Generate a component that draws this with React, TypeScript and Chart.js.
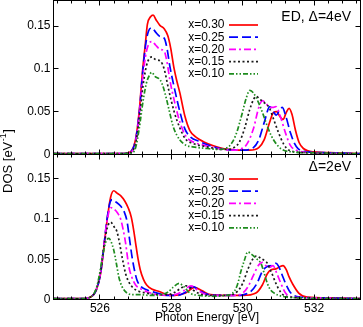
import React, { useEffect, useRef } from 'react';
import { Chart, registerables } from 'chart.js';

Chart.register(...registerables);

type Pt = [number, number];

const W = 363;
const H = 327;
const X_MIN = 524.7;
const X_MAX = 533.3;
const Y_MAX = 0.18;
const xTicks = [526, 528, 530, 532];
const yTicks = [0, 0.05, 0.1, 0.15];
const seriesLabels = ['x=0.30', 'x=0.25', 'x=0.20', 'x=0.15', 'x=0.10'];
const seriesColors = ['#ff0000', '#0000ff', '#ff00ff', '#1a1a1a', '#1e8c1e'];
const seriesDashes = [[], [9, 4], [7, 3, 2, 3], [2, 2.5], [5, 2, 1.5, 2, 1.5, 2]];
const topNote = 'ED, \u0394=4eV';
const bottomNote = '\u0394=2eV';
const xTitle = 'Photon Energy [eV]';

// ---- Top panel (ED, Δ=4eV) ----
const top030: Pt[] = [[524.7,0.001],[526.6,0.001],[526.85,0.003],[527.0,0.018],[527.1,0.05],[527.2,0.1],[527.27,0.128],[527.33,0.152],[527.42,0.161],[527.49,0.163],[527.58,0.157],[527.68,0.151],[527.8,0.147],[527.9,0.139],[527.98,0.125],[528.08,0.1],[528.16,0.085],[528.24,0.072],[528.38,0.045],[528.52,0.028],[528.7,0.02],[528.9,0.015],[529.2,0.01],[529.6,0.006],[530.2,0.005],[530.45,0.008],[530.6,0.017],[530.75,0.037],[530.86,0.049],[530.95,0.05],[531.05,0.044],[531.13,0.041],[531.22,0.049],[531.3,0.054],[531.38,0.047],[531.48,0.028],[531.58,0.014],[531.7,0.007],[532.0,0.003],[532.6,0.002],[533.3,0.001]];
const top025: Pt[] = [[524.7,0.001],[526.6,0.001],[526.85,0.003],[527.0,0.017],[527.1,0.048],[527.2,0.097],[527.28,0.128],[527.36,0.144],[527.46,0.148],[527.56,0.143],[527.68,0.138],[527.8,0.136],[527.88,0.124],[527.96,0.103],[528.1,0.075],[528.24,0.05],[528.38,0.03],[528.52,0.021],[528.8,0.015],[529.1,0.01],[529.5,0.006],[530.0,0.005],[530.3,0.008],[530.45,0.017],[530.6,0.037],[530.76,0.056],[530.86,0.05],[530.94,0.046],[531.02,0.051],[531.11,0.055],[531.2,0.046],[531.34,0.025],[531.45,0.013],[531.55,0.007],[531.8,0.003],[532.5,0.002],[533.3,0.001]];
const top020: Pt[] = [[524.7,0.001],[526.6,0.001],[526.85,0.002],[527.0,0.015],[527.1,0.045],[527.2,0.09],[527.3,0.12],[527.38,0.13],[527.46,0.132],[527.56,0.128],[527.68,0.123],[527.8,0.121],[527.88,0.108],[527.96,0.087],[528.1,0.06],[528.24,0.038],[528.4,0.022],[528.6,0.015],[528.9,0.011],[529.3,0.007],[529.7,0.005],[529.9,0.006],[530.1,0.011],[530.3,0.03],[530.45,0.055],[530.55,0.063],[530.65,0.06],[530.75,0.055],[530.85,0.055],[530.93,0.056],[531.05,0.045],[531.2,0.025],[531.33,0.011],[531.5,0.005],[532.0,0.002],[533.3,0.001]];
const top015: Pt[] = [[524.7,0.001],[526.6,0.001],[526.85,0.002],[527.0,0.013],[527.1,0.04],[527.2,0.078],[527.3,0.103],[527.38,0.112],[527.46,0.114],[527.56,0.111],[527.7,0.109],[527.8,0.1],[527.93,0.075],[528.08,0.05],[528.24,0.031],[528.4,0.018],[528.6,0.013],[529.0,0.009],[529.4,0.006],[529.6,0.006],[529.75,0.008],[529.9,0.014],[530.05,0.03],[530.2,0.053],[530.3,0.064],[530.37,0.068],[530.5,0.064],[530.62,0.06],[530.74,0.055],[530.85,0.043],[531.0,0.026],[531.15,0.012],[531.3,0.005],[531.8,0.002],[533.3,0.001]];
const top010: Pt[] = [[524.7,0.001],[526.6,0.001],[526.85,0.001],[527.0,0.008],[527.1,0.03],[527.2,0.06],[527.3,0.083],[527.38,0.092],[527.45,0.096],[527.55,0.091],[527.69,0.087],[527.78,0.078],[527.87,0.064],[527.96,0.048],[528.05,0.033],[528.15,0.023],[528.24,0.017],[528.4,0.011],[528.6,0.009],[529.0,0.007],[529.3,0.006],[529.5,0.007],[529.63,0.01],[529.8,0.022],[529.96,0.044],[530.1,0.066],[530.2,0.075],[530.3,0.072],[530.45,0.06],[530.58,0.046],[530.69,0.033],[530.8,0.022],[530.93,0.013],[531.1,0.006],[531.4,0.003],[532.0,0.002],[533.3,0.001]];

// ---- Bottom panel (Δ=2eV) ----
const bot030: Pt[] = [[524.7,0.001],[525.5,0.001],[525.74,0.003],[525.9,0.012],[526.02,0.032],[526.1,0.06],[526.2,0.098],[526.3,0.127],[526.39,0.135],[526.48,0.132],[526.58,0.129],[526.7,0.122],[526.8,0.113],[526.88,0.102],[526.95,0.085],[527.0,0.07],[527.07,0.05],[527.13,0.037],[527.22,0.025],[527.31,0.018],[527.45,0.013],[527.68,0.0097],[527.87,0.006],[528.1,0.005],[528.4,0.008],[528.65,0.015],[528.85,0.011],[529.1,0.006],[529.5,0.005],[530.0,0.005],[530.37,0.008],[530.55,0.018],[530.69,0.032],[530.8,0.037],[530.93,0.038],[531.05,0.041],[531.13,0.042],[531.22,0.037],[531.3,0.028],[531.39,0.02],[531.57,0.008],[531.8,0.003],[532.5,0.002],[533.3,0.001]];
const bot025: Pt[] = [[524.7,0.001],[525.5,0.001],[525.74,0.003],[525.9,0.012],[526.02,0.033],[526.1,0.062],[526.2,0.1],[526.28,0.12],[526.34,0.124],[526.45,0.121],[526.58,0.116],[526.68,0.109],[526.76,0.097],[526.83,0.075],[526.9,0.053],[526.97,0.036],[527.04,0.024],[527.15,0.016],[527.31,0.012],[527.6,0.008],[527.9,0.005],[528.15,0.005],[528.4,0.009],[528.6,0.016],[528.8,0.011],[529.05,0.006],[529.5,0.005],[529.9,0.005],[530.1,0.007],[530.23,0.01],[530.4,0.02],[530.55,0.035],[530.69,0.041],[530.8,0.042],[530.93,0.045],[531.02,0.04],[531.1,0.031],[531.2,0.02],[531.35,0.008],[531.6,0.003],[532.3,0.002],[533.3,0.001]];
const bot020: Pt[] = [[524.7,0.001],[525.5,0.001],[525.74,0.003],[525.9,0.013],[526.02,0.034],[526.1,0.063],[526.2,0.097],[526.3,0.114],[526.4,0.112],[526.5,0.107],[526.58,0.1],[526.65,0.087],[526.72,0.07],[526.81,0.041],[526.9,0.027],[527.0,0.018],[527.15,0.013],[527.31,0.0097],[527.6,0.006],[527.9,0.005],[528.1,0.006],[528.35,0.011],[528.55,0.017],[528.75,0.011],[529.0,0.006],[529.5,0.005],[529.8,0.005],[530.0,0.008],[530.15,0.016],[530.3,0.03],[530.45,0.043],[530.55,0.046],[530.65,0.042],[530.75,0.04],[530.85,0.042],[530.95,0.033],[531.07,0.02],[531.2,0.008],[531.4,0.003],[532.0,0.002],[533.3,0.001]];
const bot015: Pt[] = [[524.7,0.001],[525.5,0.001],[525.74,0.003],[525.9,0.013],[526.02,0.035],[526.1,0.062],[526.2,0.088],[526.3,0.096],[526.4,0.09],[526.48,0.084],[526.55,0.07],[526.62,0.053],[526.72,0.032],[526.82,0.021],[526.94,0.014],[527.1,0.01],[527.31,0.008],[527.6,0.006],[527.9,0.006],[528.1,0.009],[528.3,0.015],[528.42,0.017],[528.6,0.012],[528.8,0.007],[529.1,0.005],[529.6,0.005],[529.85,0.01],[530.0,0.02],[530.15,0.038],[530.28,0.05],[530.39,0.054],[530.51,0.051],[530.62,0.048],[530.69,0.045],[530.76,0.038],[530.83,0.031],[530.93,0.02],[531.05,0.01],[531.2,0.004],[531.8,0.002],[533.3,0.001]];
const bot010: Pt[] = [[524.7,0.001],[525.5,0.001],[525.74,0.003],[525.9,0.014],[526.0,0.034],[526.08,0.055],[526.17,0.072],[526.25,0.076],[526.32,0.071],[526.39,0.061],[526.46,0.045],[526.53,0.028],[526.62,0.016],[526.76,0.008],[526.95,0.006],[527.13,0.006],[527.4,0.005],[527.7,0.006],[527.9,0.009],[528.05,0.015],[528.22,0.02],[528.35,0.016],[528.52,0.008],[528.8,0.005],[529.2,0.004],[529.5,0.005],[529.72,0.008],[529.85,0.018],[529.95,0.035],[530.05,0.049],[530.14,0.059],[530.25,0.056],[530.4,0.05],[530.51,0.045],[530.6,0.033],[530.69,0.02],[530.78,0.012],[530.88,0.008],[531.1,0.004],[531.6,0.002],[533.3,0.001]];

const topSeries = [top030, top025, top020, top015, top010];
const bottomSeries = [bot030, bot025, bot020, bot015, bot010];

const FONT = "'Liberation Sans', Arial, Helvetica, sans-serif";

function crisp(v: number) {
  return Math.round(v - 0.5) + 0.5;
}

function decorPlugin(panel: 'top' | 'bottom') {
  return {
    id: 'decor_' + panel,
    afterDatasetsDraw(chart: any) {
      const { ctx, chartArea: a, scales } = chart;
      const xs = scales.x;
      const ys = scales.y;
      ctx.save();
      ctx.strokeStyle = '#000';
      ctx.lineWidth = 1;
      ctx.setLineDash([]);
      ctx.strokeRect(a.left, a.top, a.right - a.left, a.bottom - a.top);
      ctx.beginPath();
      for (let k = 0; k <= 21; k++) {
        const v = 524.8 + k * 0.4;
        if (v > X_MAX) break;
        const isMajor = xTicks.some((t) => Math.abs(t - v) < 1e-6);
        const len = isMajor ? 5 : 3;
        const px = crisp(xs.getPixelForValue(v));
        ctx.moveTo(px, a.bottom);
        ctx.lineTo(px, a.bottom - len);
        ctx.moveTo(px, a.top);
        ctx.lineTo(px, a.top + len);
      }
      for (const v of yTicks) {
        const py = crisp(ys.getPixelForValue(v));
        ctx.moveTo(a.left, py);
        ctx.lineTo(a.left + 5, py);
        ctx.moveTo(a.right, py);
        ctx.lineTo(a.right - 5, py);
      }
      ctx.stroke();

      ctx.fillStyle = '#000';
      ctx.textBaseline = 'middle';
      ctx.textAlign = 'right';
      ctx.font = `14px ${FONT}`;
      if (panel === 'top') ctx.fillText(topNote, 351, a.top + 16.2);
      else ctx.fillText(bottomNote, 351, a.top + 13);

      ctx.font = `12px ${FONT}`;
      for (let i = 0; i < seriesLabels.length; i++) {
        const cy = a.top + 24.5 + 12.2 * i;
        ctx.fillStyle = '#000';
        ctx.textAlign = 'right';
        ctx.fillText(seriesLabels[i], 224.5, cy);
        ctx.beginPath();
        ctx.strokeStyle = seriesColors[i];
        ctx.lineWidth = 1.7;
        ctx.setLineDash(seriesDashes[i]);
        ctx.moveTo(229, cy);
        ctx.lineTo(258, cy);
        ctx.stroke();
      }
      ctx.setLineDash([]);

      if (panel === 'bottom') {
        ctx.fillStyle = '#000';
        ctx.translate(8, 193);
        ctx.rotate(-Math.PI / 2);
        ctx.textAlign = 'left';
        ctx.textBaseline = 'middle';
        ctx.font = `13px ${FONT}`;
        const t1 = 'DOS [eV';
        ctx.fillText(t1, 0, 0);
        let w = ctx.measureText(t1).width;
        ctx.font = `9px ${FONT}`;
        const sup = '-1';
        ctx.fillText(sup, w + 0.5, -4.5);
        w += ctx.measureText(sup).width + 1;
        ctx.font = `13px ${FONT}`;
        ctx.fillText(']', w, 0);
      }
      ctx.restore();
    },
  };
}

function buildConfig(panel: 'top' | 'bottom') {
  const series = panel === 'top' ? topSeries : bottomSeries;
  const datasets = series.map((pts, i) => ({
    label: seriesLabels[i],
    data: pts.map(([x, y]) => ({ x, y })),
    borderColor: seriesColors[i],
    borderDash: seriesDashes[i],
    borderWidth: 1.7,
    pointRadius: 0,
    fill: false,
    cubicInterpolationMode: 'monotone' as const,
    order: seriesLabels.length - i,
  }));
  const isTop = panel === 'top';
  return {
    type: 'line' as const,
    data: { datasets },
    options: {
      responsive: false,
      animation: false as const,
      devicePixelRatio: 1,
      layout: {
        padding: isTop
          ? { left: 0, right: 2.5, top: 0.5, bottom: H - 154.5 }
          : { left: 0, right: 2.5, top: 154.5, bottom: 0 },
      },
      plugins: {
        legend: { display: false },
        tooltip: { enabled: false },
        title: { display: false },
      },
      scales: {
        x: {
          type: 'linear' as const,
          min: X_MIN,
          max: X_MAX,
          display: !isTop,
          grid: { display: false, drawTicks: false },
          border: { display: false },
          afterBuildTicks: (s: any) => {
            s.ticks = xTicks.map((v) => ({ value: v }));
          },
          afterFit: (s: any) => {
            s.height = isTop ? 0 : H - 299.5;
            s.paddingLeft = 0;
            s.paddingRight = 0;
            s.paddingTop = 0;
            s.paddingBottom = 0;
          },
          ticks: {
            padding: 2,
            color: '#000',
            font: { family: FONT, size: 12 },
            maxRotation: 0,
            callback: (v: any) => String(v),
          },
          title: {
            display: true,
            text: xTitle,
            color: '#000',
            font: { family: FONT, size: 12 },
            padding: { top: 0, bottom: 2 },
          },
        },
        y: {
          type: 'linear' as const,
          min: 0,
          max: Y_MAX,
          grid: { display: false, drawTicks: false },
          border: { display: false },
          afterBuildTicks: (s: any) => {
            s.ticks = yTicks.map((v) => ({ value: v }));
          },
          afterFit: (s: any) => {
            s.width = 53.5;
            s.paddingTop = 0;
            s.paddingBottom = 0;
            s.paddingLeft = 0;
            s.paddingRight = 0;
          },
          ticks: {
            padding: 3,
            color: '#000',
            font: { family: FONT, size: 12 },
            callback: (v: any) => String(v),
          },
        },
      },
    },
    plugins: [decorPlugin(panel)],
  };
}

export default function App() {
  const topRef = useRef<HTMLCanvasElement | null>(null);
  const botRef = useRef<HTMLCanvasElement | null>(null);

  useEffect(() => {
    const charts: Chart[] = [];
    if (topRef.current) charts.push(new Chart(topRef.current, buildConfig('top') as any));
    if (botRef.current) charts.push(new Chart(botRef.current, buildConfig('bottom') as any));
    return () => charts.forEach((c) => c.destroy());
  }, []);

  const canvasStyle: React.CSSProperties = {
    position: 'absolute',
    left: 0,
    top: 0,
    width: W,
    height: H,
  };

  return (
    <div style={{ position: 'fixed', left: 0, top: 0, width: W, height: H, background: '#fff' }}>
      <canvas ref={topRef} width={W} height={H} style={canvasStyle} />
      <canvas ref={botRef} width={W} height={H} style={canvasStyle} />
    </div>
  );
}
